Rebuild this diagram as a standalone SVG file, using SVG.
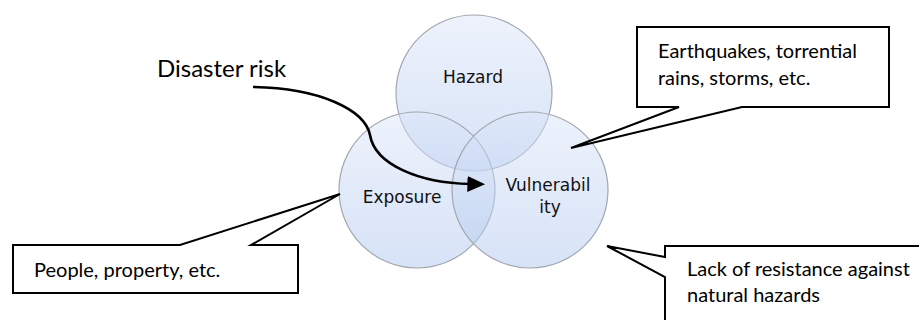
<svg xmlns="http://www.w3.org/2000/svg" width="919" height="320" viewBox="0 0 919 320">
  <defs>
    <linearGradient id="cg" x1="0" y1="0" x2="0" y2="1">
      <stop offset="0" stop-color="#dce6f9"/>
      <stop offset="1" stop-color="#aec6ee"/>
    </linearGradient>
    <marker id="ah" markerWidth="8" markerHeight="8" refX="1" refY="4" orient="auto" markerUnits="strokeWidth">
      <path d="M0,0.9 L6.8,4 L0,7.1 Z" fill="#000"/>
    </marker>
    <style>
      .circ { fill: url(#cg); fill-opacity: 0.5; stroke: #a3a6ad; stroke-width: 1.2; }
      .clbl { font-family: "DejaVu Sans", Verdana, sans-serif; font-size: 17px; fill: #111; text-anchor: middle; }
      .callout { fill: #fff; stroke: #000; stroke-width: 2; stroke-linejoin: miter; }
      .ctext { font-family: Lato, "Liberation Sans", sans-serif; font-size: 20px; fill: #000; }
      .conn { fill: none; stroke: #000; stroke-width: 2.6; }
    </style>
  </defs>
  <rect width="919" height="320" fill="#fff"/>

  <g id="hazard">
    <circle class="circ" cx="474" cy="93" r="78"/>
    <text class="clbl" x="473" y="83">Hazard</text>
  </g>
  <g id="exposure">
    <circle class="circ" cx="417" cy="190" r="78"/>
    <text class="clbl" x="402" y="203">Exposure</text>
  </g>
  <g id="vulnerability">
    <circle class="circ" cx="530" cy="190" r="78"/>
    <text class="clbl" x="548" y="191">Vulnerabil</text>
    <text class="clbl" x="550" y="213">ity</text>
  </g>

  <g id="disaster-risk-label">
    <text x="157" y="77" style="font-family: Lato, 'Liberation Sans', sans-serif; font-size: 24px; fill: #000;">Disaster risk</text>
  </g>

  <g id="connectors">
    <path class="conn" d="M253,87 C320,88 365,110 370,135 C375,165 420,183 470,184" marker-end="url(#ah)"/>
  </g>

  <g id="callout-hazard">
    <path class="callout" d="M637,27 H889 V107 H742 L571,148 L679,107 H637 Z"/>
    <text class="ctext" x="658" y="58">Earthquakes, torrential</text>
    <text class="ctext" x="658" y="85">rains, storms, etc.</text>
  </g>
  <g id="callout-exposure">
    <path class="callout" d="M13,245 H180 L340,194 L251,245 H298 V293 H13 Z"/>
    <text class="ctext" x="34" y="277">People, property, etc.</text>
  </g>
  <g id="callout-vulnerability">
    <path class="callout" d="M665,246 H925 V325 H665 V277 L607,246 L665,257 Z"/>
    <text class="ctext" x="687" y="276">Lack of resistance against</text>
    <text class="ctext" x="687" y="302">natural hazards</text>
  </g>
</svg>
